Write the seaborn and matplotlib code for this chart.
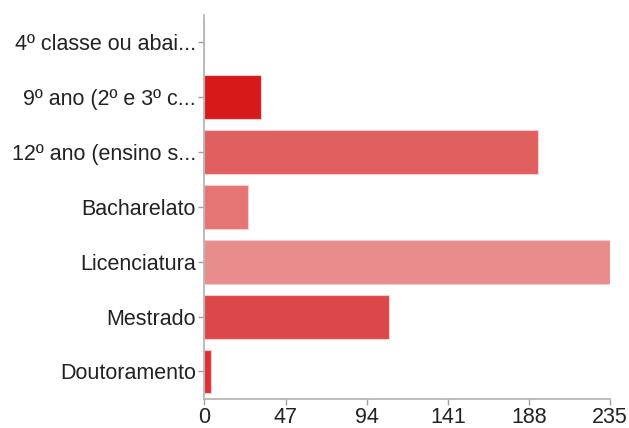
import matplotlib
matplotlib.use("Agg")
import matplotlib.pyplot as plt
import seaborn as sns
import pandas as pd

# Education level counts
categories = [
    "4º classe ou abai...",
    "9º ano (2º e 3º c...",
    "12º ano (ensino s...",
    "Bacharelato",
    "Licenciatura",
    "Mestrado",
    "Doutoramento",
]
counts = [0, 33, 193, 25, 235, 107, 4]
bar_colors = ["#d62a2a", "#d61a1c", "#e06060", "#e67474", "#e98c8c", "#dc4849", "#dc3035"]
x_ticks = [0, 47, 94, 141, 188, 235]

df = pd.DataFrame({"level": categories, "count": counts})

sns.set_style("white")
plt.rcParams["font.family"] = ["Liberation Sans", "DejaVu Sans"]

fig = plt.figure(figsize=(6.29, 4.28), dpi=100)
ax = fig.add_axes([0.325, 0.068, 0.645, 0.897])

sns.barplot(data=df, x="count", y="level", hue="level", palette=bar_colors,
            legend=False, orient="h", width=0.8, saturation=1, ax=ax,
            edgecolor="#f6cccc", linewidth=0.8)

ax.set_xlim(0, 235)
ax.set_ylim(6.5, -0.5)
ax.set_xticks(x_ticks)
ax.set_xticklabels([str(t) for t in x_ticks])
ax.set_xlabel("")
ax.set_ylabel("")

for side in ("top", "right"):
    ax.spines[side].set_visible(False)
for side in ("left", "bottom"):
    ax.spines[side].set_color("#b0b0b0")
    ax.spines[side].set_linewidth(1.2)

ax.tick_params(axis="both", which="major", labelsize=15.5, colors="#222222",
               color="#a0a0a0", length=4, width=1, direction="out",
               left=True, bottom=True)
ax.tick_params(axis="y", pad=2)
ax.tick_params(axis="x", pad=1.5)

fig.savefig("out.png", dpi=100, facecolor="white")
